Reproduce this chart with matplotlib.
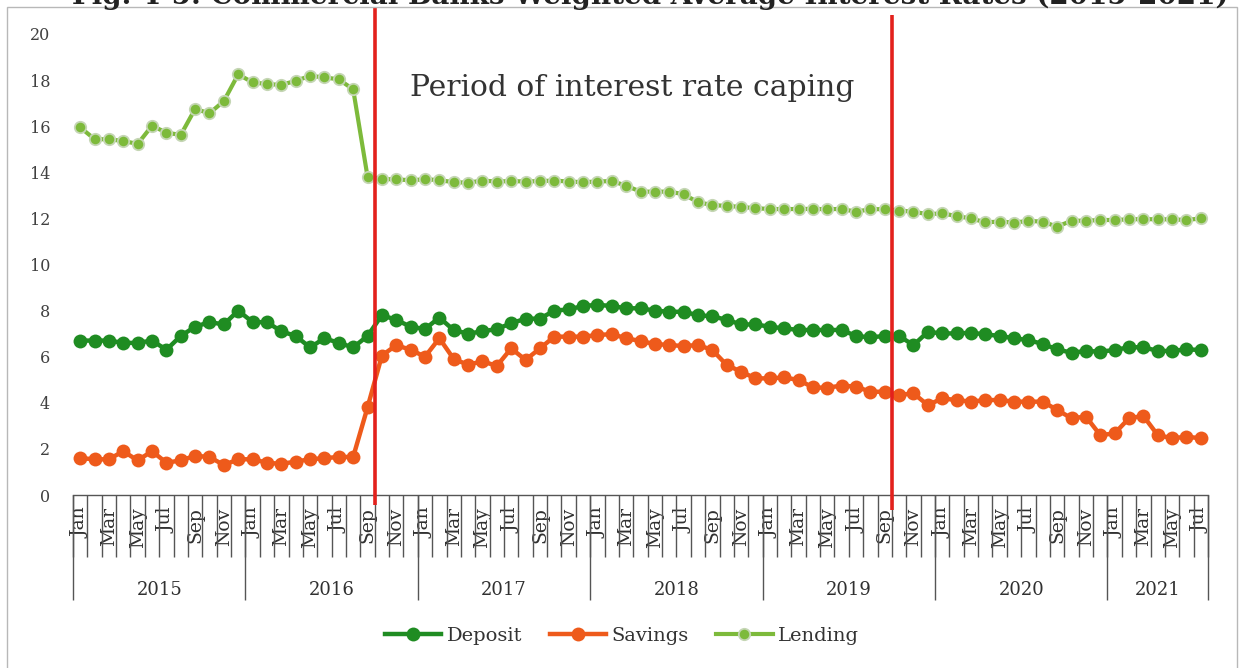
import numpy as np
import matplotlib
matplotlib.use("Agg")
import matplotlib.pyplot as plt
from matplotlib.patches import Rectangle

plt.rcParams['font.family'] = ['DejaVu Serif']

months_all = ['Jan', 'Feb', 'Mar', 'Apr', 'May', 'Jun', 'Jul', 'Aug', 'Sep', 'Oct', 'Nov', 'Dec']
years = ['2015', '2016', '2017', '2018', '2019', '2020', '2021']
months_per_year = [12, 12, 12, 12, 12, 12, 7]
categories = [m for n in months_per_year for m in months_all[:n]]

deposit = [6.7, 6.7, 6.7, 6.6, 6.6, 6.7, 6.3, 6.9, 7.3, 7.5, 7.4, 8.0,
           7.5, 7.5, 7.1, 6.9, 6.4, 6.8, 6.6, 6.4, 6.9, 7.8, 7.6, 7.3,
           7.2, 7.7, 7.15, 7.0, 7.1, 7.2, 7.45, 7.65, 7.65, 8.0, 8.05, 8.2,
           8.25, 8.2, 8.1, 8.1, 8.0, 7.95, 7.95, 7.8, 7.75, 7.6, 7.4, 7.4,
           7.3, 7.23, 7.16, 7.16, 7.16, 7.16, 6.9, 6.84, 6.9, 6.9, 6.5, 7.08,
           7.01, 7.01, 7.04, 6.97, 6.9, 6.8, 6.72, 6.55, 6.32, 6.17, 6.25, 6.22,
           6.29, 6.41, 6.41, 6.25, 6.25, 6.32, 6.29]

savings = [1.6, 1.55, 1.55, 1.9, 1.5, 1.9, 1.4, 1.5, 1.7, 1.65, 1.3, 1.55,
           1.55, 1.4, 1.35, 1.45, 1.55, 1.6, 1.65, 1.65, 3.8, 6.05, 6.5, 6.3,
           6.0, 6.8, 5.9, 5.65, 5.8, 5.6, 6.36, 5.86, 6.36, 6.87, 6.87, 6.87,
           6.94, 6.98, 6.8, 6.68, 6.55, 6.51, 6.46, 6.51, 6.29, 5.64, 5.35, 5.06,
           5.06, 5.1, 4.99, 4.67, 4.65, 4.75, 4.7, 4.48, 4.48, 4.34, 4.41, 3.9,
           4.19, 4.12, 4.05, 4.12, 4.12, 4.05, 4.05, 4.05, 3.69, 3.33, 3.4, 2.6,
           2.67, 3.33, 3.43, 2.6, 2.46, 2.53, 2.46]

lending = [15.95, 15.44, 15.43, 15.36, 15.23, 16.02, 15.72, 15.62, 16.75, 16.56, 17.09, 18.25,
           17.9, 17.83, 17.79, 17.97, 18.18, 18.12, 18.03, 17.6, 13.81, 13.7, 13.7, 13.65,
           13.7, 13.66, 13.57, 13.55, 13.64, 13.6, 13.62, 13.6, 13.62, 13.64, 13.6, 13.57,
           13.6, 13.62, 13.42, 13.16, 13.16, 13.16, 13.05, 12.7, 12.58, 12.54, 12.5, 12.44,
           12.41, 12.4, 12.41, 12.41, 12.4, 12.41, 12.29, 12.4, 12.4, 12.34, 12.29, 12.18,
           12.22, 12.1, 12.0, 11.83, 11.86, 11.82, 11.89, 11.86, 11.64, 11.9, 11.9, 11.93,
           11.93, 11.96, 11.97, 11.96, 11.96, 11.93, 12.0]

cap_start = 20.5   # between Sep and Oct 2016
cap_end = 56.5     # between Sep and Oct 2019
annotation = "Period of interest rate caping"
title = "Fig. 4-5: Commercial Banks Weighted Average Interest Rates (2015-2021)"

W, H = 1240, 668
fig = plt.figure(figsize=(W / 100, H / 100), dpi=100)
fig.patch.set_facecolor('white')

# outer frame
fig.patches.append(Rectangle((7 / W, -0.01), 1230 / W, 1 - 7 / H + 0.01, transform=fig.transFigure,
                             fill=False, edgecolor='#b8b8b8', linewidth=1.0))
# title at the very top of the page (cut by the page edge, as in the source)
fig.text(1228 / W, 1 - 4 / H, title, ha='right', va='baseline', fontsize=20,
         fontweight='bold', color='#222222')

ax = fig.add_axes([73 / W, 1 - 495 / H, 1135 / W, 461 / H])
x = np.arange(len(categories))

ax.plot(x, lending, color='#7dba3b', lw=3, marker='o', ms=8.2,
        markerfacecolor='#7dba3b', markeredgecolor='#c5d6b5', markeredgewidth=1.3,
        label='Lending', zorder=3)
ax.plot(x, savings, color='#ee5a1b', lw=3.2, marker='o', ms=10,
        markerfacecolor='#ee5a1b', markeredgecolor='#ee5a1b', markeredgewidth=0,
        label='Savings', zorder=4)
ax.plot(x, deposit, color='#1f8c22', lw=3.2, marker='o', ms=10,
        markerfacecolor='#1f8c22', markeredgecolor='#1f8c22', markeredgewidth=0,
        label='Deposit', zorder=5)

ax.set_xlim(-0.5, len(categories) - 0.5)
ax.set_ylim(0, 20)

for s in ['left', 'top', 'right']:
    ax.spines[s].set_visible(False)
ax.spines['bottom'].set_color('#555555')
ax.spines['bottom'].set_linewidth(1.0)

ax.set_yticks(np.arange(0, 21, 2))
ax.tick_params(axis='y', length=0, pad=16.5, labelsize=11.5, labelcolor='#404040')

major = x[::2]
ax.set_xticks(major)
ax.set_xticklabels([categories[i] for i in major], rotation=90, va='top', ha='center')
ax.tick_params(axis='x', which='major', length=0, pad=9, labelsize=13.5, labelcolor='#303030')
ax.set_xticks(np.arange(-0.5, len(categories), 1), minor=True)
ax.tick_params(axis='x', which='minor', length=44.6, width=1.0, color='#555555', direction='out')

xt = ax.get_xaxis_transform()
bounds = np.concatenate([[0], np.cumsum(months_per_year)]) - 0.5
ax.vlines(bounds, -105 / 461, 0, transform=xt, colors='#555555', lw=1.0, clip_on=False)
for i, yr in enumerate(years):
    ax.text((bounds[i] + bounds[i + 1]) / 2, -95 / 461, yr, transform=xt,
            ha='center', va='center', fontsize=13, color='#303030')

# cap-period red lines
ax.vlines([cap_start], -10 / 461, 487 / 461, transform=xt, colors='#e3211c', lw=2.6, clip_on=False, zorder=6)
ax.vlines([cap_end], -15 / 461, 480 / 461, transform=xt, colors='#e3211c', lw=2.6, clip_on=False, zorder=6)

ax.text((410 - 73) / 1135, (495 - 88) / 461, annotation, transform=ax.transAxes,
        ha='left', va='center', fontsize=21.4, color='#333333')

handles, labels = ax.get_legend_handles_labels()
order = [2, 1, 0]
fig.legend([handles[i] for i in order], [labels[i] for i in order], loc='center',
           bbox_to_anchor=(622 / W, 1 - 636 / H), ncol=3, frameon=False, fontsize=14,
           handlelength=2.9, handletextpad=0.3, columnspacing=1.4, numpoints=1,
           labelcolor='#333333')

fig.savefig('out.png', dpi=100, facecolor='white')
